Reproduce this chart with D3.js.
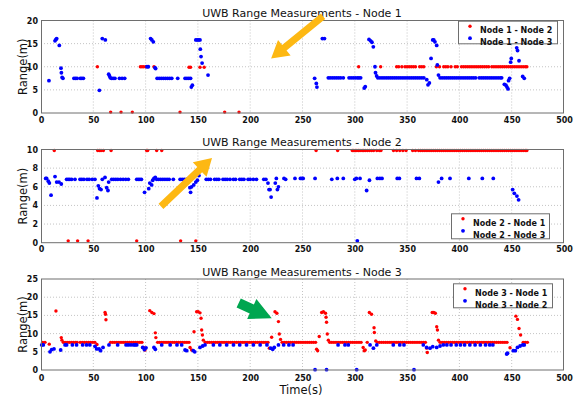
<!DOCTYPE html>
<html>
<head>
<meta charset="utf-8">
<script src="https://cdn.jsdelivr.net/npm/d3@7"></script>
<style>
body{margin:0;background:#fff}
svg{display:block;font-family:"DejaVu Sans",sans-serif}
</style>
</head>
<body>
<svg id="chart" width="582" height="399"></svg>
<script>
// tick labels
var xTicks = [0,50,100,150,200,250,300,350,400,450,500];
var yTicks1 = [0,5,10,15,20];
var yTicks2 = [0,2,4,6,8,10];
var yTicks3 = [0,5,10,15,20,25];

var titles = ["UWB Range Measurements - Node 1","UWB Range Measurements - Node 2","UWB Range Measurements - Node 3"];
var legend1 = ["Node 1 - Node 2","Node 1 - Node 3"];
var legend2 = ["Node 2 - Node 1","Node 2 - Node 3"];
var legend3 = ["Node 3 - Node 1","Node 3 - Node 2"];

// [time(s), range(m)]
var n1n2 = [[53.9,10],[66.6,0.2],[76.5,0.2],[87.3,0.2],[95,10],[96.5,10],[98,10],[100,10],[108,10],[132.9,0.2],[141.5,9.9],[143,9.9],[152,9.9],[156,9.9],[175.6,0.2],[189.3,0.2],[303.7,10],[324.7,10],
[340,10],[342,10],[345,10],[348,10],[350,10],[352,10],[354,10],[356,10],[358,10],[362,10],[364,10],[366,10],
[378,10],[381,10],[385,10],[387,10],[389,10],[392,10],[396,10],[398,10],
[402,10],[404,10],[406,10],[408,10],[410,10],[412,10],[414,10],[416,10],[418,10],[420,10],[422,10],[424,10],[426,10],[428,10],[431,10],[433,10],[435,10],[437,10],[439,10],[441,10],[443,10],[445,10],[447,10],[449,10],[451,10],[453,10],[455,10],[457,10],[459,10],[461,10],[463,10],[464.5,10]];

var n1n3 = [[7.6,7],[13.4,15.6],[14.3,15.9],[15,16.1],[17.5,14.6],[19.1,9.7],[19.5,8.7],[20.2,7.7],[21,7.5],
[31.5,7.5],[33,7.5],[34.5,7.5],[37.5,7.5],[39,7.5],[40.5,7.5],
[55.8,4.9],[58.6,16.1],[61.5,15.8],[64.7,8.4],[65.5,8],[66.3,7.6],[67.5,7.5],[69,7.5],[70.7,7.5],[75,7.5],[77.5,7.5],[80,7.5],
[101.3,10],[102.6,10],[104.8,16.1],[106,15.8],[107.4,15.4],[109,9.8],[109.6,9.6],
[111,7.5],[113,7.5],[115,7.5],[117,7.5],[119,7.5],[121,7.5],[123,7.5],[125,7.5],[130.7,7.5],
[137.7,7.5],[139.5,7.5],[141.3,7.5],[143,7.5],[143.7,5.6],[144.7,6],
[148,15.8],[149.3,15.8],[150.7,15.8],[152,15.8],[152.3,13.8],[153,12.2],[154,10.8],[159.7,8.2],
[261.6,7.5],[263.2,6.4],[263.8,5.6],[269,16.1],[271,16.1],
[274.7,7.6],[276.5,7.6],[278.5,7.6],[280.5,7.6],[282.5,7.6],[284.5,7.6],[286.5,7.6],[289,7.6],
[294.5,7.6],[296.5,7.6],[298.5,7.6],[300.5,7.6],[302.5,7.6],[304,7.6],[305.6,7.6],
[309,5.4],[310,5.7],[313.6,15.9],[315.1,15.6],[316.4,15.3],[317.7,14.3],[319.3,10],[319.8,8.7],[320.9,8],
[322,7.6],[324,7.6],[326,7.6],[328,7.6],[330,7.6],[332,7.6],[334,7.6],[336,7.6],[338,7.6],[340,7.6],[342,7.6],[344,7.6],[346,7.6],[348,7.6],[350,7.6],[352,7.6],[354,7.6],[356,7.6],[358,7.6],[360,7.6],[362,7.6],[364,7.6],[366,7.6],
[368.8,7.2],[370,6.1],[371.3,6.5],[372.9,11.8],[374.5,15.8],[375.5,15.8],[376.6,15.4],[378.3,14.6],[378.9,10.4],[380,8.2],
[381.5,7.6],[383.5,7.6],[385.5,7.6],[387.5,7.6],[389.5,7.6],[391.5,7.6],[393.5,7.6],[395.5,7.6],[397.5,7.6],[399.5,7.6],[401.5,7.6],[403.5,7.6],[405.5,7.6],[407.5,7.6],[409.5,7.6],[411.5,7.6],[413.5,7.6],[415.5,7.6],[419,7.6],[421,7.6],[423,7.6],[425,7.6],[427,7.6],[429,7.6],[431,7.6],[433,7.6],[435,7.6],[437,7.6],[439,7.6],[440.4,7.6],
[443,6.2],[444.5,6],[445.5,5.6],[446.5,5.2],[447,7],[448,7.5],[449,11],[449.6,11.8],[454.8,14.1],[455.6,13.5],[457,11.3],[460.5,7.9],[462,7.5]];

var n2n1 = [[12.7,9.9],[26,0.2],[35,0.2],[45,0.2],[54.2,9.9],[55.8,9.9],[57.4,9.9],[59.6,9.9],[67,9.9],[91.5,0.2],[101,9.9],[102,9.9],[110.6,9.9],[115.4,9.9],[133.5,0.2],[148,0.2],[263,9.9],[283.6,9.9],
[297.6,9.9],[299,9.9],[300.5,9.9],[302,9.9],[303.5,9.9],
[305,9.9],[307,9.9],[308.5,9.9],[310,9.9],[312,9.9],[314,9.9],[316,9.9],[318,9.9],[321,9.9],[323.5,9.9],[325,9.9],
[337,9.9],[340,9.9],[343,9.9],[346,9.9],[349,9.9],
[355.3,9.9],[358,9.9],[361,9.9],[363,9.9],[365,9.9],[367,9.9],[369,9.9],[371,9.9],[373,9.9],[375,9.9],[377,9.9],[379,9.9],[381,9.9],
[383,9.9],[385,9.9],[387,9.9],[389,9.9],[391,9.9],[393,9.9],[395,9.9],[397,9.9],[399,9.9],[401,9.9],[403,9.9],[405,9.9],[407,9.9],[409,9.9],[411,9.9],[413,9.9],[415,9.9],[417,9.9],[419,9.9],[421,9.9],[423,9.9],[425,9.9],[427,9.9],[429,9.9],[431,9.9],[433,9.9],[435,9.9],[437,9.9],[439,9.9],[441,9.9],[443,9.9],[445,9.9],[447,9.9],[449,9.9],[451,9.9],[453,9.9],[455,9.9],[457,9.9],[459,9.9],[461,9.9],[463,9.9],[464.5,9.9]];

var n2n3 = [[4.5,6.9],[5.4,6.9],[7,6.6],[8,6.4],[9.6,5.1],[13.4,7.1],[15,6.5],[17.2,6.5],[19.4,6.3],
[24.5,6.8],[26,6.8],[27.5,6.8],[29.3,6.8],[32.5,6.8],[37.3,6.8],[39,6.8],[41,6.8],[44,6.8],[46,6.8],[49,6.8],[51.6,6.8],
[53.5,4.8],[54.8,6.1],[56,5.8],[57.4,5.7],[58.6,6.8],[61.2,7],[62.8,5.9],[64,5.6],[64.7,6.5],
[67.6,6.8],[69.5,6.8],[71.5,6.8],[73.5,6.8],[76,6.8],[78.5,6.8],[81,6.8],[83.5,6.8],[91.5,6.8],[93,6.8],[94.5,6.8],[96,6.8],
[99,5.4],[103,5.8],[104,6.4],[105.8,6.2],[106.8,6.7],[108,6.9],[109.3,7],
[110.6,6.8],[112.5,6.8],[114.5,6.8],[116.5,6.8],[118.5,6.8],[120.5,6.8],[122.5,6.8],[126.5,6.8],[133,6.8],[135,6.8],[137,6.8],[139,6.8],
[142.4,5.9],[143,5.4],[144,6],[146,6.2],[148,6.5],[149.5,6.7],[151,7.2],
[158,6.8],[160,6.8],[162,6.8],[166,6.8],[168,6.8],[170,6.8],[174,6.8],[176,6.8],[178,6.8],[180.7,6.8],[184,6.8],[186,6.8],[190,6.8],[192,6.8],[194,6.8],[198,6.8],[200,6.8],[203,6.8],[206,6.8],[213,6.8],[215,6.8],
[217,6.4],[218,5.7],[219,5.7],[220,4.9],[224,6.4],[225,6.9],[226,5.7],[227,6],
[232.3,6.9],[233.9,6.8],[242.8,6.9],[248,6.9],[249.5,6.9],[250.6,6.9],[262,6.9],[278,6.8],[283.3,6.9],[289,6.9],
[300,6.8],[301.5,6.9],[302.4,0.2],[305,6.9],[311.3,5.6],[314,6.7],[321.6,6.9],[324,6.9],[326,6.9],[340.6,6.9],[342.6,6.9],[359,6.9],[361.7,6.9],
[380,6.5],[383,6.9],[391,6.9],[409,6.9],[421.9,6.9],[432.4,6.9],[450.9,5.7],[452.5,5.3],[455,5],[456.6,4.6]];

var n3n1 = [[1.6,7.6],[3.8,7.6],[7.9,7.1],[14.3,16.2],[19.4,8.9],[20,8.2],
[21.3,7.6],[23,7.6],[25,7.6],[27,7.6],[29,7.6],[31,7.6],[33,7.6],[34.5,7.6],[37.5,7.6],[39.5,7.6],[41.5,7.6],[43.5,7.6],[45.5,7.6],[47.5,7.6],[49.5,7.6],[51.5,7.6],[53.5,7],
[61.2,15.8],[61.7,15.3],[62.1,13.8],
[66.5,7.6],[68.5,7.6],[70.5,7.6],[72.5,7.6],[74.5,7.6],[76.5,7.6],[78.5,7.6],[80.5,7.6],[82.5,7.6],[84.5,7.6],[86.5,7.6],[88.5,7.6],[90.5,7.6],[92.5,7.6],[94.5,7.6],[96.5,7.6],
[98,6.2],[99.4,5.5],[104,16.3],[106,15.8],[108,15.5],[109.3,10.2],[109.8,8.9],
[111.5,7.6],[113.5,7.6],[115.5,7.6],[117.5,7.6],[119.5,7.6],[121.5,7.6],[123.5,7.6],[125.5,7.6],[127.5,7.6],[129.5,7.6],[131.5,7.6],[133.5,7.6],[135.5,7.6],[137.5,7.6],[139.5,7.6],[141.5,7.6],
[142.5,6.2],[144,5.5],[146.3,10.5],[148.8,16],[150.3,16],[152,15.7],[153,14.2],[153.6,11],[154.3,9.6],[155.2,8.2],
[157,7.6],[159,7.6],[161,7.6],[163,7.6],[165,7.6],[167,7.6],[169,7.6],[171,7.6],[173,7.6],[175,7.6],[177,7.6],[179,7.6],[181,7.6],[183,7.6],[185,7.6],[187,7.6],[189,7.6],[191,7.6],[193,7.6],[195,7.6],[197,7.6],[199,7.6],[201,7.6],[203,7.6],[205,7.6],[207,7.6],[209,7.6],[211,7.6],[213,7.6],[215,7.6],[217,7.6],
[218.3,6],[220.5,9],[223.7,16],[225.5,15.6],[227,13.3],[227.8,9.9],[229,8.4],
[230.5,7.6],[232.5,7.6],[234.5,7.6],[236.5,7.6],[238.5,7.6],[240.5,7.6],[242.5,7.6],[244.5,7.6],[246.5,7.6],[248.5,7.6],[250.5,7.6],[252.5,7.6],[254.5,7.6],[256.5,7.6],[258.5,7.6],[260.5,7.6],[262.5,7.6],
[263.5,5.7],[264.5,5.3],[266,9.2],[268.3,15.8],[270,16],[272,15.6],[272.5,14.5],[273,13.1],[273.7,9.9],[274.7,8.2],
[276,7.6],[278,7.6],[280,7.6],[282,7.6],[284,7.6],[286,7.6],[288,7.6],[290,7.6],[292,7.6],[294,7.6],[296,7.6],[298,7.6],[300,7.6],[302,7.6],[304,7.6],[306,7.6],
[308,6.2],[309,5.3],[310,5.5],[311.9,7.6],[313.9,15.8],[316,15.3],[318.4,11.6],[318.7,10.3],[320,8],
[321.5,7.6],[323.5,7.6],[325.5,7.6],[327.5,7.6],[329.5,7.6],[331.5,7.6],[333.5,7.6],[335.5,7.6],[337.5,7.6],[339.5,7.6],[341.5,7.6],[343.5,7.6],[345.5,7.6],[347.5,7.6],[349.5,7.6],[351.5,7.6],[353.5,7.6],[355.5,7.6],[357.5,7.6],[359.5,7.6],[361.5,7.6],[363.5,7.6],[365.5,7.6],[367.5,7.6],
[368.7,6],[369.3,4.8],[374,15.8],[375.5,15.8],[377,15.6],[378.3,11.9],[379,11],[380,8.2],
[381.5,7.6],[383.5,7.6],[385.5,7.6],[387.5,7.6],[389.5,7.6],[391.5,7.6],[393.5,7.6],[395.5,7.6],[397.5,7.6],[399.5,7.6],[401.5,7.6],[403.5,7.6],[405.5,7.6],[407.5,7.6],[409.5,7.6],[411.5,7.6],[413.5,7.6],[415.5,7.6],[417.5,7.6],[419.5,7.6],[421.5,7.6],[423.5,7.6],[425.5,7.6],[427.5,7.6],[429.5,7.6],[431.5,7.6],[433.5,7.6],[435.5,7.6],[437.5,7.6],[439.5,7.6],[441.5,7.6],[443.5,7.6],[445.5,7.6],
[448.4,6.1],[454,14.8],[455.5,13.9],[457,11.4],[458.5,9.6],[461,7.6],[463,7.6],[465,7.6]];

var n3n2 = [[0.7,6.9],[2.2,6.9],[8.6,5],[10.2,5.6],[12.4,5.8],[18.8,5.5],[23,6.9],[24.5,6.9],[30,6.9],[34,6.9],[39.8,6.9],[43.5,6.9],[46.7,6.9],
[51.6,6.5],[53.2,5.8],[55.5,5.8],[57,5.3],[59.3,6.2],[65,6.9],[73.3,6.9],[81.3,6.9],[83.5,6.9],[86,6.9],[88.5,6.9],[90,6.9],[91.5,6.9],
[97.2,6.2],[98.8,5.6],[100.4,6.1],[108,6.2],[109.3,5.7],[115.4,6.9],[123.5,6.9],[130,6.9],[134.5,6.9],[137.7,5.5],[139.3,5.3],[145.6,5.3],[147,5],
[152,6.2],[154.6,6.6],[156.8,6.9],[164.8,6.9],[171,6.9],[177.5,6.9],[184,6.9],[190,6.9],[196.5,6.9],[203,6.9],[209.5,6.9],[216,6.9],
[219.6,6],[221.5,5.7],[223,6.2],[227,6.9],[232,6.9],[237,6.9],[241,6.9],[262,0.1],[273,0.1],[284,6.9],[290.6,6.9],[293.8,6.9],[301.8,0.1],
[314.6,6.9],[317.8,6],[321,6.9],[336.8,6.9],[343,6.9],[347,6.9],[356.6,0.1],[365.5,6.9],[368.7,6.2],[371.9,6],[374.5,6.4],[378.3,6.2],[381.5,6.6],[384.6,6.9],
[388,6.9],[392,6.9],[397,6.9],[401,6.9],[405,6.9],[410,6.9],[415,6.9],[420,6.9],[425,6.9],[429,6.9],[432,6.9],
[445.2,4.4],[446,4.6],[451.5,5.3],[453.5,5.3],[455.5,6.2],[458,6.6],[460.5,6.9],[462,6.9]];

// annotation arrows, tail and tip in data units of their panel
var arrows = [
  {panel:0, from:[269.6,20.9], to:[220,11.8], sw:3.5, hw:10, hl:17, color:"#fdb813"},
  {panel:1, from:[114.7,3.9], to:[163.5,9.1], sw:3.5, hw:10, hl:17, color:"#fdb813"},
  {panel:2, from:[189,18.4], to:[220.6,14.2], sw:5, hw:11, hl:22, color:"#00a650"}
];

var RED = "#ff0000", BLUE = "#0000ff";
var left = 41, right = 564;

var panels = [
  {top:20.5, bottom:113, ymax:20, yt:yTicks1, title:titles[0], red:n1n2, blue:n1n3, names:legend1, lg:{x:458,y:20.7,w:99,h:22.6}, pad:4},
  {top:149.5, bottom:242.7, ymax:10, yt:yTicks2, title:titles[1], red:n2n1, blue:n2n3, names:legend2, lg:{x:451,y:213.3,w:98,h:25}, pad:4},
  {top:279, bottom:370, ymax:25, yt:yTicks3, title:titles[2], red:n3n1, blue:n3n2, names:legend3, lg:{x:453,y:283.3,w:99,h:24}, pad:5}
];

var svg = d3.select("#chart");
var x = d3.scaleLinear().domain([0,500]).range([left,right]);

function arrowPoints(p0,p1,sw,hw,hl){
  var dx = p1[0]-p0[0], dy = p1[1]-p0[1];
  var len = Math.sqrt(dx*dx+dy*dy);
  var ux = dx/len, uy = dy/len, nx = -uy, ny = ux;
  var bx = p1[0]-ux*hl, by = p1[1]-uy*hl;
  return [[p0[0]+nx*sw,p0[1]+ny*sw],[bx+nx*sw,by+ny*sw],[bx+nx*hw,by+ny*hw],p1,
          [bx-nx*hw,by-ny*hw],[bx-nx*sw,by-ny*sw],[p0[0]-nx*sw,p0[1]-ny*sw]];
}

var yScales = [];
panels.forEach(function(p,i){
  var y = d3.scaleLinear().domain([0,p.ymax]).range([p.bottom,p.top]);
  yScales.push(y);
  var g = svg.append("g");

  // grid
  g.selectAll("line.gx").data(xTicks.slice(1,-1)).join("line")
    .attr("x1",d=>x(d)).attr("x2",d=>x(d)).attr("y1",p.top).attr("y2",p.bottom)
    .attr("stroke","#c4c4c4").attr("stroke-width",1).attr("stroke-dasharray","1,2");
  g.selectAll("line.gy").data(p.yt.slice(1,-1)).join("line")
    .attr("x1",left).attr("x2",right).attr("y1",d=>y(d)).attr("y2",d=>y(d))
    .attr("stroke","#c4c4c4").attr("stroke-width",1).attr("stroke-dasharray","1,2");

  // axes labels
  var ax = g.append("g").attr("transform","translate(0,"+p.bottom+")")
    .call(d3.axisBottom(x).tickValues(xTicks).tickSize(0).tickPadding(p.pad));
  var ay = g.append("g").attr("transform","translate("+left+",0)")
    .call(d3.axisLeft(y).tickValues(p.yt).tickSize(0).tickPadding(3));
  [ax,ay].forEach(function(a){
    a.select(".domain").remove();
    a.selectAll("text").attr("font-family","DejaVu Sans").attr("font-size",8)
      .attr("font-weight","bold").attr("fill","#111");
  });

  // data
  g.append("g").selectAll("circle").data(p.red).join("circle")
    .attr("cx",d=>x(d[0])).attr("cy",d=>y(d[1])).attr("r",1.7).attr("fill",RED);
  g.append("g").selectAll("circle").data(p.blue).join("circle")
    .attr("cx",d=>x(d[0])).attr("cy",d=>y(d[1])).attr("r",1.9).attr("fill",BLUE);

  // frame
  g.append("rect").attr("x",left+0.5).attr("y",p.top)
    .attr("width",right-left-1).attr("height",p.bottom-p.top)
    .attr("fill","none").attr("stroke","#6e6e6e").attr("stroke-width",1);

  // title and ylabel
  g.append("text").attr("x",302).attr("y",p.top-3.5).attr("text-anchor","middle")
    .attr("font-size",11).attr("fill","#111").text(p.title);
  g.append("text").attr("transform","translate(26.5,"+((p.top+p.bottom)/2)+") rotate(-90)")
    .attr("text-anchor","middle").attr("font-size",11.5).attr("fill","#111").text("Range(m)");

  // legend
  var L = p.lg;
  var lg = g.append("g");
  lg.append("rect").attr("x",L.x+0.5).attr("y",L.y+0.5).attr("width",L.w).attr("height",L.h)
    .attr("fill","#fff").attr("stroke","#6e6e6e").attr("stroke-width",1);
  [RED,BLUE].forEach(function(c,k){
    lg.append("circle").attr("cx",L.x+12).attr("cy",L.y+5.5+12*k).attr("r",k?1.9:1.7).attr("fill",c);
    lg.append("text").attr("x",L.x+22).attr("y",L.y+12.5+12*k)
      .attr("font-size",8).attr("font-weight","bold").attr("fill","#111").text(p.names[k]);
  });
});

svg.append("text").attr("x",301).attr("y",394).attr("text-anchor","middle")
  .attr("font-size",11.5).attr("fill","#111").text("Time(s)");

// arrows on top
arrows.forEach(function(a){
  var y = yScales[a.panel];
  var pts = arrowPoints([x(a.from[0]),y(a.from[1])],[x(a.to[0]),y(a.to[1])],a.sw,a.hw,a.hl);
  svg.append("polygon").attr("points",pts.map(p=>p.join(",")).join(" ")).attr("fill",a.color);
});
</script>
</body>
</html>
